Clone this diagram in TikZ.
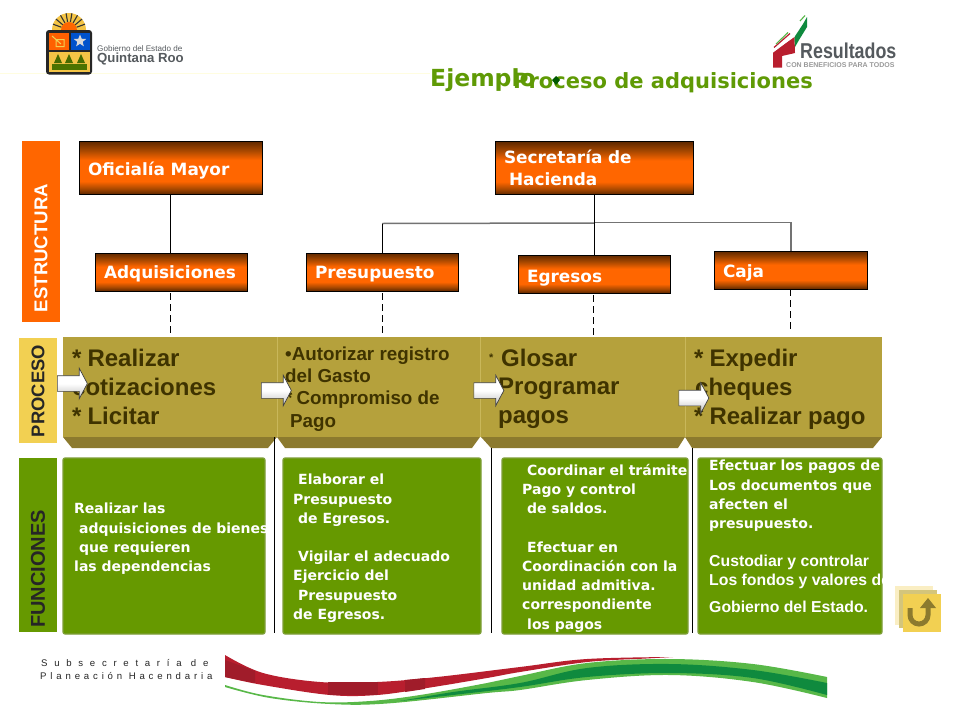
\documentclass[tikz,border=0pt]{standalone}
\usepackage{fontspec}
\usetikzlibrary{shapes.arrows,shapes.geometric}
\setmainfont{Liberation Sans}
\newfontfamily\dv{DejaVu Sans}
\newfontfamily\spA[LetterSpace=70]{Liberation Sans}
\newfontfamily\spB[LetterSpace=40]{Liberation Sans}
\definecolor{dkor}{HTML}{5E2800}
\definecolor{midor}{HTML}{A84800}
\definecolor{brtor}{HTML}{FF6600}
\definecolor{gold}{HTML}{B5A13C}
\definecolor{goldd}{HTML}{8C7A2E}
\definecolor{goldl}{HTML}{C9B75A}
\definecolor{ink}{HTML}{3F3300}
\definecolor{grn}{HTML}{669900}
\definecolor{grnl}{HTML}{7F9F3A}
\definecolor{yel}{HTML}{F2D052}
\definecolor{titleg}{HTML}{5F9A05}
\definecolor{redb}{HTML}{B81E2E}
\definecolor{redd}{HTML}{A01C2A}
\definecolor{gb}{HTML}{0F8A3E}
\definecolor{gl}{HTML}{58B848}
\definecolor{grayt}{HTML}{555A5E}
\pgfdeclareverticalshading{orgshade}{100bp}{color(0bp)=(dkor); color(25bp)=(dkor); color(30bp)=(midor); color(37bp)=(brtor); color(57bp)=(brtor); color(66bp)=(midor); color(75bp)=(dkor); color(100bp)=(dkor)}
\newcommand{\fsz}[2]{\fontsize{#1pt}{#2pt}\selectfont}
\tikzset{
  orgbox/.style={draw=black,line width=0.9pt,shading=orgshade,text=white,align=left,inner xsep=9pt,inner ysep=0pt,font=\dv\bfseries\fsz{16.9}{22.5}},
  sidelab/.style={rotate=90,font=\bfseries,inner sep=0pt},
  bar/.style={line width=0.8pt,black},
  link/.style={line width=1pt,black},
  glink/.style={line width=1.5pt,black!55},
  dlink/.style={line width=0.8pt,black,dash pattern=on 7pt off 4pt},
  proctxt/.style={anchor=north west,inner sep=0pt,align=left,text=ink,font=\bfseries},
  funtxt/.style={anchor=north west,inner sep=0pt,align=left,text=white,font=\dv\bfseries\fsz{14}{19.2}},
  funbox/.style={draw=grnl,line width=1.2pt,fill=grn,rounded corners=2pt},
  blockarrow/.style={single arrow,draw=black!75,line width=0.7pt,inner sep=0pt,anchor=tail,text height=15pt,text depth=0pt,text width=20pt,minimum height=30pt,single arrow head extend=7.5pt,single arrow tip angle=124,single arrow head indent=0pt,top color=white,bottom color=black!25,middle color=white},
}
\begin{document}
\begin{tikzpicture}[x=1pt,y=-1pt]
\useasboundingbox (0,0) rectangle (960,720);
\fill[white] (0,0) rectangle (960,720);
% faint header rule
\draw[line width=0.5pt,yellow!12!white] (0,73.5) -- (430,73.5);
% === Quintana Roo logo
\fill[yel!85!orange] (52,30) arc[start angle=180,end angle=360,radius=17] -- cycle;
\foreach \a in {200,220,...,340}{\draw[black!80,line width=1.1pt] (69,30) ++(\a:8) -- ++(\a:9);}
\fill[orange!80!red] (61,30) arc[start angle=180,end angle=360,radius=8] -- cycle;
\fill[black!85,rounded corners=3pt] (46,30) rectangle (92,74.5);
\fill[yel!85!orange] (49,51.5) rectangle (90,71.5);
\fill[orange!75!red] (49,32.5) rectangle (68.5,50);
\fill[blue!60!cyan!80!black] (70.5,32.5) rectangle (90,50);
\fill[grn!75!black] (52,70) -- (52,64) -- (87,64) -- (87,70) -- cycle;
\node[star,star points=5,star point ratio=2.3,fill=black!15!white,inner sep=0pt,minimum size=13pt] (qstar) at (80,41) {};
\foreach \x in {58,69,81}{\fill[grn!70!black] (\x-4,63) -- (\x,54) -- (\x+4,63) -- cycle;}
\draw[yel,line width=1pt] (52,36) -- (61,44) (56,46.5) -- (64,46.5) -- (64,39.5) -- (56,39.5) -- cycle;
\node[anchor=base west,inner sep=0pt,text=grayt,font=\fsz{8.1}{9}] (gob) at (97,51) {Gobierno del Estado de};
\node[anchor=base west,inner sep=0pt,text=grayt,font=\bfseries\fsz{13.2}{14}] (qroo) at (97,62) {Quintana Roo};
% === Resultados logo
\fill[redb] (773,67.5) -- (773,52) -- (794.5,37) -- (795,53) -- (782,56) -- (782,67.5) -- cycle;
\fill[gb] (794.5,37) -- (803,24) -- (807,17) -- (807,27) -- (799,40) -- (795,47) -- cycle;
\draw[white,line width=1pt] (773,52) -- (794,36);
\draw[redb,line width=1.2pt] (774,47.5) -- (790,33.5);
\draw[gl,line width=1.1pt] (776,44) -- (788,32.5);
\draw[gl,line width=1.1pt] (800,21) -- (805,15.5);
\node[anchor=base west,inner sep=0pt,text=grayt,font=\bfseries\fsz{21.5}{24}] (res) at (800,58.5) {\addfontfeature{FakeStretch=0.83}Resultados};
\node[anchor=base west,inner sep=0pt,text=black!40,font=\bfseries\fsz{7}{8}] (con) at (786,67.5) {CON BENEFICIOS PARA TODOS};
% === Title
\node[anchor=base west,inner sep=0pt,text=titleg,font=\dv\bfseries\fsz{23.5}{26}] (ej) at (430,86) {Ejemplo};
\node[anchor=base west,inner sep=0pt,text=titleg,font=\dv\bfseries\fsz{21}{26}] (tit) at (513,88) {Proceso de adquisiciones};
\fill[green!35!black] (556,76) -- (560,80) -- (556,85) -- (552,80) -- cycle;
% === Side labels
\fill[brtor] (22,141) rectangle (60,322);
\node[sidelab,text=white,font=\bfseries\fsz{18.6}{20}] (lE) at (41,248) {ESTRUCTURA};
\fill[yel] (19,338) rectangle (57,443);
\node[sidelab,text=black!85,font=\bfseries\fsz{18.4}{20}] (lP) at (38,391) {PROCESO};
\fill[grn] (19,458) rectangle (57,632);
\node[sidelab,text=black!85,font=\bfseries\fsz{20}{20}] (lF) at (38,569) {FUNCIONES};
% === Org boxes
\node[orgbox,text height=18pt,text depth=2pt,minimum width=183pt,minimum height=53pt,text width=165pt] (ofi) at (170.5,167.5) {Oficialía Mayor};
\node[orgbox,minimum width=198pt,minimum height=53pt,text width=180pt] (sec) at (594,168) {Secretaría de\\\hspace*{5pt}Hacienda};
\node[orgbox,text height=14pt,text depth=2pt,minimum width=152pt,minimum height=38pt,text width=134pt] (adq) at (171,272) {Adquisiciones};
\node[orgbox,text height=14pt,text depth=2pt,minimum width=152pt,minimum height=38pt,text width=134pt] (pre) at (382,272) {Presupuesto};
\node[orgbox,text height=18pt,text depth=2pt,minimum width=152pt,minimum height=38pt,text width=134pt] (egr) at (594,274) {Egresos};
\node[orgbox,text height=16pt,text depth=2pt,minimum width=153pt,minimum height=38pt,text width=135pt] (caj) at (790.5,270) {Caja};
% === Connectors
\coordinate (hubpre) at (382,223.5);
\coordinate (hubsec) at (594.5,223);
\coordinate (hubcaj) at (791,222.5);
\draw[link] (ofi.south -| 170.5,0) -- (adq.north -| 170.5,0);
\draw[glink] (hubpre) -- (hubsec);
\draw[glink] (hubsec |- hubcaj) -- (hubcaj) -- (caj.north -| hubcaj);
\draw[link] (hubpre) -- (pre.north);
\draw[link] (sec.south) -- (egr.north);
\coordinate (dA) at (170.5,337); \coordinate (dB) at (382,337);
\coordinate (dC) at (593,337); \coordinate (dD) at (790.5,332);
\draw[dlink] (170.5,293) -- (dA);
\draw[dlink] (382,293) -- (dB);
\draw[dlink] (593,295) -- (dC);
\draw[dlink] (caj.south -| dD) -- (dD);
% === Process band
\fill[goldd] (63,437) -- (72,448) -- (268,448) -- (277,437) -- cycle;
\fill[goldd] (277,437) -- (285,448) -- (472,448) -- (480,437) -- cycle;
\fill[goldd] (481,437) -- (491,448) -- (678,448) -- (685,437) -- cycle;
\fill[goldd] (685,437) -- (692,448) -- (873,448) -- (882,437) -- cycle;
\fill[gold] (63,337) rectangle (882,437);
\draw[goldl,line width=0.9pt] (277,337) -- (277,437) (480.5,337) -- (480.5,437) (685,337) -- (685,437);
% process text
\node[proctxt,font=\bfseries\fsz{24}{29}] (p1) at (72,349) {*\hspace{6pt}Realizar\\cotizaciones\\*\hspace{6pt}Licitar};
\node[proctxt,font=\bfseries\fsz{18.8}{22.3}] (p2) at (285,346.5) {•Autorizar registro\\del Gasto\\*\hspace{4pt}Compromiso de\\\hspace*{5pt}Pago};
\node[proctxt,font=\bfseries\fsz{11}{11}] (p3a) at (489,354) {*};
\node[proctxt,font=\bfseries\fsz{24}{29}] (p3) at (501,349) {Glosar};
\node[proctxt,font=\bfseries\fsz{24}{29}] (p3b) at (498,378) {Programar\\pagos};
\node[proctxt,font=\bfseries\fsz{24}{29}] (p4) at (694,349) {*\hspace{6pt}Expedir\\\hspace*{1pt}cheques\\*\hspace{6pt}Realizar pago};
% === Function boxes
\path[funbox] (63,458) rectangle (265,634);
\path[funbox] (283,458) rectangle (481,634);
\path[funbox] (502,458) rectangle (688,634);
\path[funbox] (698,458) rectangle (882,634);
\node[funtxt] (f1) at (74,503) {Realizar las\\\hspace*{5pt}adquisiciones de bienes\\\hspace*{5pt}que requieren\\las dependencias};
\node[funtxt] (f2) at (293,474) {\hspace*{5pt}Elaborar el\\Presupuesto\\\hspace*{5pt}de Egresos.\\[19.2pt]\hspace*{5pt}Vigilar el adecuado\\Ejercicio del\\\hspace*{5pt}Presupuesto\\de Egresos.};
\node[funtxt] (f3) at (522,464) {\hspace*{5pt}Coordinar el trámite\\Pago y control\\\hspace*{5pt}de saldos.\\[19.2pt]\hspace*{5pt}Efectuar en\\Coordinación con la\\unidad admitiva.\\correspondiente\\\hspace*{5pt}los pagos};
\node[funtxt] (f4) at (709,460) {Efectuar los pagos de\\Los documentos que\\afecten el\\presupuesto.};
\node[funtxt,font=\bfseries\fsz{15.8}{19}] (f4b) at (709,555) {Custodiar y controlar\\Los fondos y valores de};
\node[funtxt,font=\bfseries\fsz{15.8}{19}] (f4c) at (709,601) {Gobierno del Estado.};
% === Column separators
\draw[bar] (274.5,437) -- (274.5,633);
\draw[bar] (491.5,448) -- (491.5,633);
\draw[bar] (692.5,448) -- (692.5,633);
% === Block arrows
\node[blockarrow] (a1) at (57,383.5) {};
\node[blockarrow] (a2) at (261,390.5) {};
\node[blockarrow] (a3) at (473.5,390.5) {};
\node[blockarrow] (a4) at (678.5,398) {};
% === Footer text
\node[anchor=base west,inner sep=0pt,text=black!85,font=\spA\fsz{9.6}{10}] (s1) at (41,666.5) {Subsecretaría de};
\node[anchor=base west,inner sep=0pt,text=black!85,font=\spB\fsz{9.6}{10}] (s2) at (40,679.5) {Planeación Hacendaria};
% === Swoosh
\fill[redb] plot[smooth,tension=.6] coordinates {(225,655) (263,673) (320,682) (377,682) (437,677) (520,667) (587,659) (673,657)} -- plot[smooth,tension=.6] coordinates {(637,659) (587,662) (520,672) (487,678) (427,688) (377,695) (330,695) (263,685) (225,677)} -- cycle;
\fill[redd] (225,660) -- (255,671) -- (255,683) -- (225,677) -- cycle;
\fill[redd] (328,682) -- (378,682) -- (378,695) -- (328,695) -- cycle;
\fill[redd] (405,680) -- (425,678) -- (425,689) -- (405,692) -- cycle;
\fill[gl] plot[smooth,tension=.6] coordinates {(225,685) (263,695) (320,702) (370,701) (420,695) (487,683) (520,676) (587,663) (670,659) (753,664) (827,677)} -- plot[smooth,tension=.6] coordinates {(827,698) (753,682) (670,675) (587,680) (520,690) (487,693) (387,703.5) (330,704) (270,698) (225,687)} -- cycle;
\fill[gb] plot[smooth,tension=.6] coordinates {(400,701) (453,692) (520,683) (587,668) (670,664) (753,670) (827,683)} -- plot[smooth,tension=.6] coordinates {(827,695) (753,678) (670,673) (587,677) (520,687) (453,695) (400,701)} -- cycle;
% === Return button
\fill[yel!35!white] (895,586) rectangle (933,625);
\fill[goldl!80!white] (899,590) rectangle (937,628);
\fill[yel] (903,594) rectangle (941,632);
\draw[goldd,line width=5pt] (910,608) -- (910,615) arc[start angle=180,end angle=0,radius=9] -- (928,606);
\fill[goldd] (928,598) -- (936,608) -- (920,608) -- cycle;
\end{tikzpicture}
\end{document}
